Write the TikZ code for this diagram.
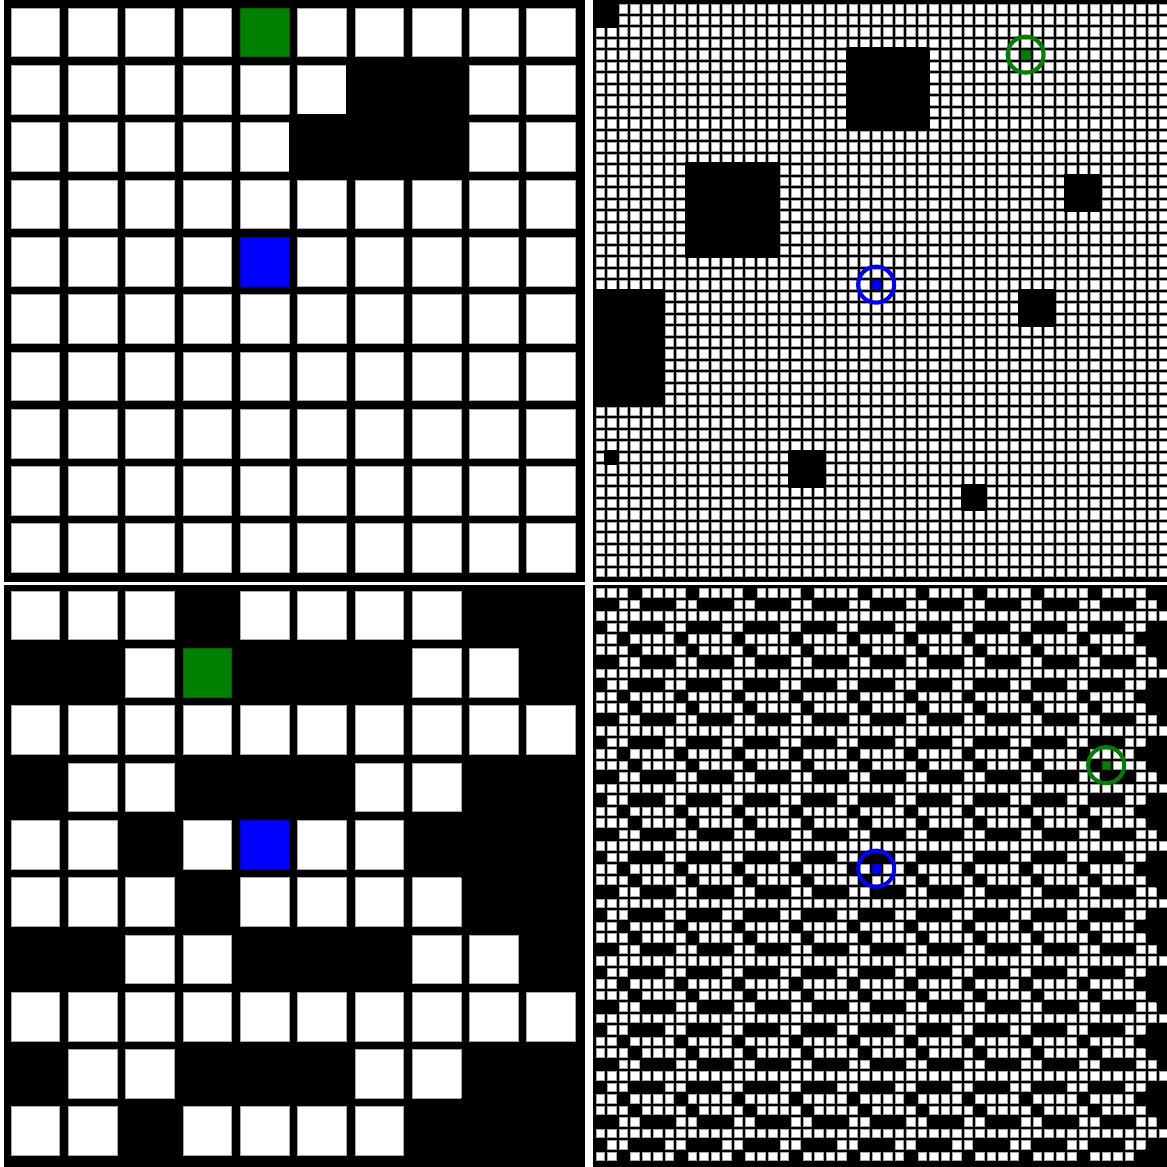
\documentclass[tikz,border=0pt]{standalone}
\usetikzlibrary{calc}

\newcommand{\mazemap}[1]{%
  \foreach \rowpos/\freecols in {0/{0,1,2,4},1/{2,3},2/{0,1,2,3,4},3/{1,2},4/{0,1,3,4}}
    \foreach \rowblk in {0,...,#1}
      \foreach \colblk in {0,...,#1}
        \foreach \colpos in \freecols
          \draw[freecell] ({5*\colblk+\colpos},{5*\rowblk+\rowpos}) rectangle ++(\s,\s);
  \pgfmathtruncatemacro\lastcol{5*#1+4}
  \foreach \rowblk in {0,...,#1} {
    \fill ({\lastcol-\g},{5*\rowblk-\g}) rectangle ({\lastcol+1},{5*\rowblk+1});
    \fill ({\lastcol-1-\g},{5*\rowblk+4-\g}) rectangle ({\lastcol+1},{5*\rowblk+5});
  }
}

\begin{document}
\begin{tikzpicture}[x=0.02cm,y=-0.02cm,
    freecell/.style={fill=white,draw=black!35,line width=0.3pt},
    startcell/.style={fill=blue,draw=blue!80!black,line width=0.3pt},
    goalcell/.style={fill=green!50!black,draw=green!40!black,line width=0.3pt},
    startring/.style={draw=blue,line width=2.3pt},
    goalring/.style={draw=green!50!black,line width=2.3pt}]
  \useasboundingbox (0,0) rectangle (1167,1167);
  \fill[white] (0,0) rectangle (1167,1167);
  \clip (0,0) rectangle (1167,1167);

  \begin{scope}
    \clip (4,0) rectangle (585,582);
    \fill (4,0) rectangle (585,582);
    \begin{scope}[shift={(11,8)},scale=57.3]
      \def\s{0.85}\def\g{0.15}
      \foreach \row in {0,...,9} \foreach \col in {0,...,9}
        \draw[freecell] (\col,\row) rectangle ++(\s,\s);
      \foreach \c/\cc/\r/\rr in {6/7/1/2, 5/5/2/2}
        \fill ({\c-\g},{\r-\g}) rectangle ({\cc+1},{\rr+1});
      \draw[goalcell] (4,0) rectangle ++(\s,\s);
      \draw[startcell] (4,4) rectangle ++(\s,\s);
    \end{scope}
  \end{scope}

  \begin{scope}
    \clip (593,0) rectangle (1174,582);
    \fill (593,0) rectangle (1174,582);
    \begin{scope}[shift={(596,4.5)},scale=11.5]
      \def\s{0.72}\def\g{0.28}
      \foreach \row in {0,...,49} \foreach \col in {0,...,49}
        \draw[freecell] (\col,\row) rectangle ++(\s,\s);
      \foreach \c/\cc/\r/\rr in {0/1/0/1, 22/28/4/10, 8/15/14/21, 41/43/15/17,
          37/39/25/27, 0/5/25/34, 1/1/39/39, 17/19/39/41, 32/33/42/43}
        \fill ({\c-\g},{\r-\g}) rectangle ({\cc+1},{\rr+1});
      \draw[goalcell] (37,4) rectangle ++(\s,\s);
      \draw[startcell] (24,24) rectangle ++(\s,\s);
      \draw[goalring] ({37+\s/2},{4+\s/2}) circle (1.57);
      \draw[startring] ({24+\s/2},{24+\s/2}) circle (1.57);
    \end{scope}
  \end{scope}

  \begin{scope}
    \clip (4,585) rectangle (585,1170);
    \fill (4,585) rectangle (585,1170);
    \begin{scope}[shift={(11,591)},scale=57.3]
      \def\s{0.85}\def\g{0.15}
      \mazemap{1}
      \draw[goalcell] (3,1) rectangle ++(\s,\s);
      \draw[startcell] (4,4) rectangle ++(\s,\s);
    \end{scope}
  \end{scope}

  \begin{scope}
    \clip (593,585) rectangle (1174,1170);
    \fill (593,585) rectangle (1174,1170);
    \begin{scope}[shift={(596,588.5)},scale=11.5]
      \def\s{0.72}\def\g{0.28}
      \mazemap{9}
      \draw[goalcell] (44,15) rectangle ++(\s,\s);
      \draw[startcell] (24,24) rectangle ++(\s,\s);
      \draw[goalring] ({44+\s/2},{15+\s/2}) circle (1.57);
      \draw[startring] ({24+\s/2},{24+\s/2}) circle (1.57);
    \end{scope}
  \end{scope}
\end{tikzpicture}
\end{document}
